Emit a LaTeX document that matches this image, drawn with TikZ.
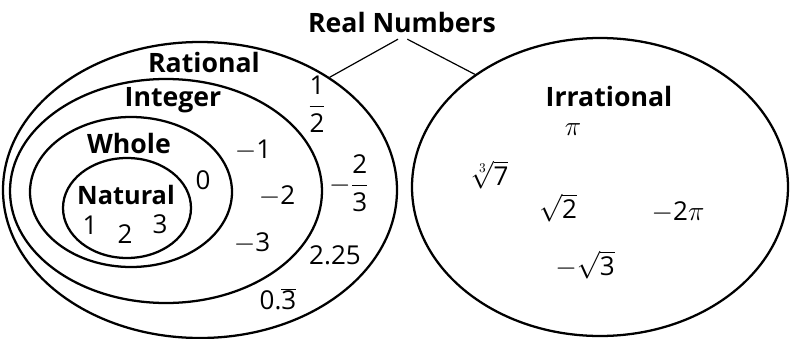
\documentclass[tikz,border=0pt]{standalone}
\usepackage{fontspec}
\setmainfont{Open Sans}
\usetikzlibrary{shapes.geometric}
\tikzset{
  setell/.style={ellipse, draw, line width=1.7pt, inner sep=0pt},
  lbl/.style={font=\bfseries\fontsize{20}{24}\selectfont, inner sep=0pt},
  num/.style={font=\fontsize{19.5}{23}\selectfont, inner sep=0pt},
  conn/.style={line width=0.9pt}
}
\begin{document}
\begin{tikzpicture}[x=0.75pt,y=-0.75pt]
\useasboundingbox (0,0) rectangle (790,339);
% sets
\node[setell, minimum width=295.5pt, minimum height=222pt] (rat) at (200,190) {};
\node[setell, minimum width=234pt, minimum height=168pt] (int) at (166,191) {};
\node[setell, minimum width=151.5pt, minimum height=112.5pt] (whole) at (131,192) {};
\node[setell, minimum width=96pt, minimum height=75pt] (nat) at (127,208) {};
\node[setell, minimum width=282pt, minimum height=223.5pt] (irr) at (600,187) {};
% title and connectors
\node[lbl] (real) at (402,22) {Real Numbers};
\draw[conn] ([xshift=-3pt,yshift=-5pt]real.south) -- (rat.41);
\draw[conn] ([xshift=4pt,yshift=-5pt]real.south) -- (irr.138);
% labels
\node[lbl] (lrat) at (204,62) {Rational};
\node[lbl] (lint) at (173,100) {Integer};
\node[lbl] (lwhole) at (129,143) {Whole};
\node[lbl, font=\bfseries\fontsize{19}{23}\selectfont] (lnat) at (126,195) {Natural};
\node[lbl] (lirr) at (609,96) {Irrational};
% numbers
\node[num] (n1) at (90,225) {1};
\node[num] (n2) at (125,234) {2};
\node[num] (n3) at (160,224) {3};
\node[num] (n0) at (203,180) {0};
\node[num] (m1) at (253,150) {$-$1};
\node[num] (m2) at (277,196) {$-$2};
\node[num] (m3) at (252,243) {$-$3};
\node[num] (half) at (317,104) {$\displaystyle\frac{\mbox{1}}{\mbox{2}}$};
\node[num] (mtt) at (349,183) {$-\displaystyle\frac{\mbox{2}}{\mbox{3}}$};
\node[num] (d225) at (335,255) {2.25};
\node[num] (rep) at (278,299) {0.$\overline{\mbox{3}}$};
\node[num] (pi) at (573,130) {$\pi$};
\node[num] (cbrt) at (490,175) {$\sqrt[3]{\mbox{7}}$};
\node[num] (sq2) at (558,208) {$\sqrt{\mbox{2}}$};
\node[num] (m2pi) at (678,212) {$-$2$\pi$};
\node[num] (msq3) at (585,265) {$-\sqrt{\mbox{3}}$};
\end{tikzpicture}
\end{document}
